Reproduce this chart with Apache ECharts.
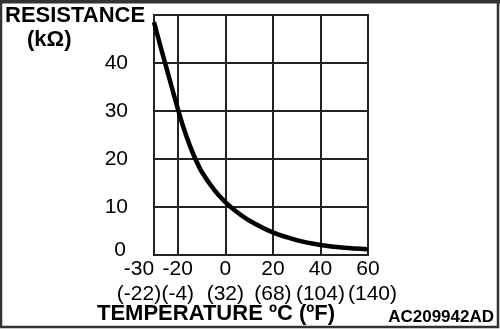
<!DOCTYPE html>
<html>
<head>
<meta charset="utf-8">
<script src="https://cdn.jsdelivr.net/npm/echarts@6/dist/echarts.min.js"></script>
<style>
  html, body { margin: 0; padding: 0; background: #fff; }
  #chart { width: 500px; height: 329px; }
</style>
</head>
<body>
<div id="chart"></div>
<script>
// données (°C -> kΩ)
const temps = [-30, -27.5, -25, -22.5, -20, -17.5, -15, -12.5, -10, -5, 0, 5, 10, 20, 30, 40, 50, 60];
const resistance = [48.5, 43.9, 39.4, 34.9, 30.5, 26.4, 22.9, 19.9, 17.4, 13.8, 11, 8.9, 7.2, 4.7, 3.1, 2.1, 1.5, 1.2];

// graduations
const celsiusTicks = [-30, -20, 0, 20, 40, 60];
const fahrenheitTicks = ['(-22)', '(-4)', '(32)', '(68)', '(104)', '(140)'];
const gridTemps = [-20, 0, 20, 40];
const resTicks = [0, 10, 20, 30, 40];

const FONT = '"Liberation Sans", Arial, sans-serif';
const chart = echarts.init(document.getElementById('chart'), null, { renderer: 'canvas' });

const inner = celsiusTicks.slice(1, -1);
const ends = [celsiusTicks[0], celsiusTicks[celsiusTicks.length - 1]];

function labelText(v) {
  const i = celsiusTicks.indexOf(v);
  if (i === 0) return '{first|' + v + '}\n{first|' + fahrenheitTicks[i] + '}';
  if (i === celsiusTicks.length - 1) return '{t|' + v + '}\n{last|' + fahrenheitTicks[i] + '}';
  return '{t|' + v + '}\n{t|' + fahrenheitTicks[i] + '}';
}
const richX = {
  t: { fontFamily: FONT, fontSize: 21, color: '#000', lineHeight: 25 },
  first: { fontFamily: FONT, fontSize: 21, color: '#000', lineHeight: 25, padding: [0, 30, 0, 0] },
  last: { fontFamily: FONT, fontSize: 21, color: '#000', lineHeight: 25, padding: [0, 0, 0, 9] }
};

chart.setOption({
  animation: false,
  grid: {
    left: 154, right: 132, top: 15, bottom: 74,
    show: true, borderColor: '#222', borderWidth: 2
  },
  xAxis: [{
    type: 'value',
    min: -30, max: 60,
    axisLine: { show: false },
    axisTick: { show: false, customValues: gridTemps },
    splitLine: { show: true, lineStyle: { color: '#222', width: 2 } },
    axisLabel: {
      customValues: inner,
      margin: 2, lineHeight: 25,
      formatter: labelText, rich: richX
    }
  }, {
    // second axe, seulement pour les étiquettes des bords
    type: 'value',
    position: 'bottom', offset: 0,
    min: -30, max: 60,
    axisLine: { show: false },
    axisTick: { show: false },
    splitLine: { show: false },
    axisLabel: {
      customValues: ends,
      margin: 2, lineHeight: 25,
      formatter: labelText, rich: richX
    }
  }],
  yAxis: {
    type: 'value',
    min: 0, max: 50, interval: 10,
    axisLine: { show: false },
    axisTick: { show: false },
    splitLine: { show: true, lineStyle: { color: '#222', width: 2 } },
    axisLabel: {
      margin: 26,
      fontFamily: FONT, fontSize: 21, color: '#000',
      formatter: function (v) {
        if (resTicks.indexOf(v) < 0) return '';
        if (v === 0) return '{z|0}';
        return '{t|' + v + '}';
      },
      rich: {
        t: { fontFamily: FONT, fontSize: 21, color: '#000' },
        z: { fontFamily: FONT, fontSize: 21, color: '#000', padding: [0, 2, 10, 0] }
      }
    }
  },
  series: [{
    type: 'line',
    xAxisIndex: 0,
    data: temps.map((t, i) => [t, resistance[i]]),
    smooth: 0.3,
    showSymbol: false,
    lineStyle: { color: '#000', width: 4.5 },
    z: 5
  }],
  graphic: [
    {
      type: 'rect', silent: true, z: 100,
      shape: { x: 1, y: 1.5, width: 497, height: 325.5 },
      style: { fill: 'none', stroke: '#333', lineWidth: 2.5 }
    },
    {
      type: 'rect', silent: true, z: 100,
      shape: { x: 0, y: 0, width: 500, height: 3.5 },
      style: { fill: '#333' }
    },
    {
      type: 'text', left: 5, top: 5,
      style: { text: 'RESISTANCE', font: 'bold 22px ' + FONT, fill: '#000' }
    },
    {
      type: 'text', left: 27, top: 29,
      style: { text: '(kΩ)', font: 'bold 22px ' + FONT, fill: '#000' }
    },
    {
      type: 'text', left: 97, top: 303,
      style: { text: 'TEMPERATURE ºC (ºF)', font: 'bold 22px ' + FONT, fill: '#000' }
    },
    {
      type: 'text', right: 6, top: 309,
      style: { text: 'AC209942AD', font: 'bold 17px ' + FONT, fill: '#000' }
    }
  ]
});
</script>
</body>
</html>
